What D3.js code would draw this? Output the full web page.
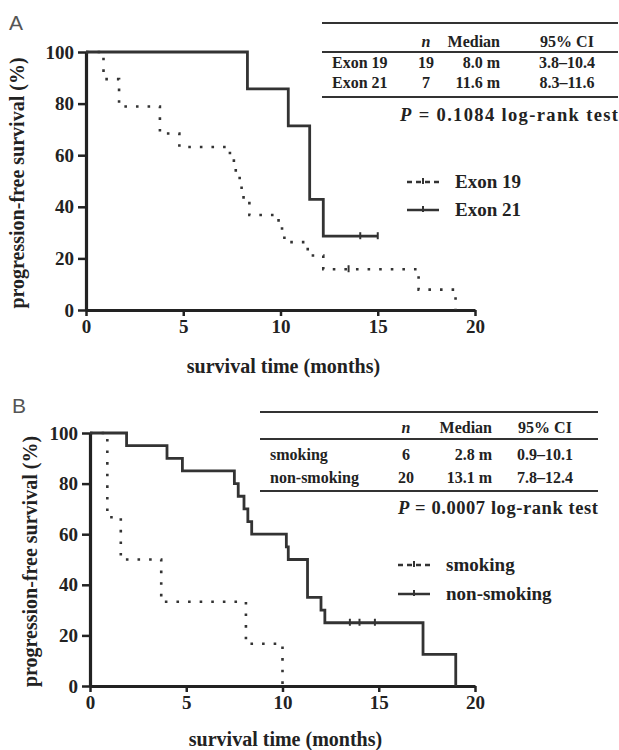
<!DOCTYPE html>
<meta charset="utf-8">
<head>
  <title>PFS curves</title>
  <script src="https://cdnjs.cloudflare.com/ajax/libs/d3/7.8.5/d3.min.js"></script>
  <style>
    body { margin: 0; background: #fff; }
    text { font-family: "Liberation Serif", "Times New Roman", serif; font-weight: bold; fill: #222; }
  </style>
</head>
<body>
<div id="chart"></div>
<script>
  var WIDTH = 619
  var HEIGHT = 750

  // panel A: exon 19 vs exon 21 (Kaplan-Meier steps, survival in %)
  var timesExon19 = [0, 0.9, 1.7, 3.8, 4.8, 7.4, 7.7, 7.9, 8.1, 8.4, 9.9, 10.2, 11.4, 12.2, 17.1, 19.0]
  var survExon19  = [100, 89.5, 78.9, 68.4, 63.2, 57.9, 52.6, 47.4, 42.1, 36.8, 31.6, 26.3, 21.1, 15.8, 7.9, 0]
  var censorExon19 = [[13.5, 15.8]]

  var timesExon21 = [0, 8.3, 10.4, 11.5, 12.2, 15.0]
  var survExon21  = [100, 85.7, 71.4, 42.9, 28.6, 28.6]
  var censorExon21 = [[14.1, 28.6], [15.0, 28.6]]

  // panel B: smoking vs non-smoking
  var timesSmoking = [0, 0.9, 1.6, 3.7, 8.1, 10.0]
  var survSmoking  = [100, 66.7, 50, 33.3, 16.7, 0]
  var censorSmoking = []

  var timesNonSmoking = [0, 1.9, 4.0, 4.8, 7.5, 7.7, 8.0, 8.2, 8.4, 10.2, 10.3, 11.3, 12.0, 12.2, 17.3, 19.0]
  var survNonSmoking  = [100, 95, 90, 85, 80, 75, 70, 65, 60, 55, 50, 35, 30, 25, 12.5, 0]
  var censorNonSmoking = [[13.5, 25], [14.0, 25], [14.8, 25]]

  var xTicks = [0, 5, 10, 15, 20]
  var yTicks = [0, 20, 40, 60, 80, 100]

  var tableHeader = ["", "n", "Median", "95% CI"]
  var tableA = [["Exon 19", "19", "8.0 m", "3.8\u201310.4"], ["Exon 21", "7", "11.6 m", "8.3\u201311.6"]]
  var tableB = [["smoking", "6", "2.8 m", "0.9\u201310.1"], ["non-smoking", "20", "13.1 m", "7.8\u201312.4"]]
  var pValueA = "0.1084"
  var pValueB = "0.0007"

  var svg = d3.select("#chart").append("svg")
    .attr("width", WIDTH)
    .attr("height", HEIGHT)

  function zip(t, s) {
    return t.map(function(d, i) { return [d, s[i]] })
  }

  function drawPanel(p) {
    var x = d3.scaleLinear().domain([0, 20]).range([p.left, p.right])
    var y = d3.scaleLinear().domain([0, 100]).range([p.bottom, p.top])
    var g = svg.append("g")

    g.append("text")
      .attr("x", p.letterX).attr("y", p.letterY)
      .style("font-family", "Liberation Sans, sans-serif")
      .style("font-weight", "normal")
      .style("font-size", "21px")
      .style("fill", "#555")
      .text(p.letter)

    var xAxis = g.append("g")
      .attr("transform", "translate(0," + p.bottom + ")")
      .call(d3.axisBottom(x).tickValues(xTicks).tickSize(6).tickSizeOuter(0).tickPadding(4))
    var yAxis = g.append("g")
      .attr("transform", "translate(" + p.left + ",0)")
      .call(d3.axisLeft(y).tickValues(yTicks).tickSize(8).tickSizeOuter(0).tickPadding(4))

    ;[xAxis, yAxis].forEach(function(a) {
      a.select(".domain").attr("stroke", "#222").attr("stroke-width", 3.2)
      a.selectAll(".tick line").attr("stroke", "#222").attr("stroke-width", 2.5)
      a.selectAll(".tick text").style("font-size", "19px").attr("fill", "#222")
    })

    g.append("text")
      .attr("x", (p.left + p.right) / 2 + 3).attr("y", p.xLabelY)
      .attr("text-anchor", "middle")
      .style("font-size", "20px")
      .text("survival time (months)")

    g.append("text")
      .attr("transform", "translate(" + p.yLabelX + "," + ((p.top + p.bottom) / 2 + 2) + ") rotate(-90)")
      .attr("text-anchor", "middle")
      .style("font-size", "20px")
      .text("progression-free survival (%)")

    var line = d3.line()
      .x(function(d) { return x(d[0]) })
      .y(function(d) { return y(d[1]) })
      .curve(d3.curveStepAfter)

    p.series.forEach(function(s) {
      g.append("path")
        .datum(zip(s.times, s.surv))
        .attr("d", line)
        .attr("fill", "none")
        .attr("stroke", "#333")
        .attr("stroke-width", s.dotted ? 2.6 : 2.8)
        .attr("stroke-dasharray", s.dotted ? "2.6,9" : null)

      g.selectAll(null)
        .data(s.censor)
        .enter().append("line")
        .attr("x1", function(d) { return x(d[0]) })
        .attr("x2", function(d) { return x(d[0]) })
        .attr("y1", function(d) { return y(d[1]) - 4 })
        .attr("y2", function(d) { return y(d[1]) + 3 })
        .attr("stroke", "#333")
        .attr("stroke-width", 2)
    })

    // summary table
    var t = p.table
    ;[t.ruleTop, t.ruleMid, t.ruleBottom].forEach(function(yy) {
      g.append("line")
        .attr("x1", t.x0).attr("x2", t.x1)
        .attr("y1", yy).attr("y2", yy)
        .attr("stroke", "#333").attr("stroke-width", 2)
    })
    var rows = [tableHeader].concat(t.rows)
    rows.forEach(function(r, i) {
      var yy = t.rowY[i]
      g.append("text").attr("x", t.labelX).attr("y", yy).style("font-size", "16px").text(r[0])
      g.append("text").attr("x", t.nX).attr("y", yy).attr("text-anchor", "middle")
        .style("font-size", "16px").style("font-style", i === 0 ? "italic" : "normal").text(r[1])
      g.append("text").attr("x", t.medX).attr("y", yy).attr("text-anchor", "end")
        .style("font-size", "16px").text(r[2])
      g.append("text").attr("x", t.ciX).attr("y", yy).attr("text-anchor", "middle")
        .style("font-size", "16px").text(r[3])
    })
    var pt = g.append("text").attr("x", t.pX0).attr("y", t.pY)
      .style("font-size", "18.5px")
      .attr("textLength", t.x1 - t.pX0).attr("lengthAdjust", "spacing")
    pt.append("tspan").style("font-style", "italic").text("P")
    pt.append("tspan").text(" = " + t.p + "  log-rank test")

    // legend
    p.series.forEach(function(s, i) {
      var ly = p.legendY[i]
      g.append("line")
        .attr("x1", p.legendX).attr("x2", p.legendX + 32)
        .attr("y1", ly).attr("y2", ly)
        .attr("stroke", "#333").attr("stroke-width", 2.5)
        .attr("stroke-dasharray", s.dotted ? "5,4" : null)
      g.append("line")
        .attr("x1", p.legendX + 16).attr("x2", p.legendX + 16)
        .attr("y1", ly - 4).attr("y2", ly + 2)
        .attr("stroke", "#333").attr("stroke-width", 2)
      g.append("text")
        .attr("x", p.legendX + 48).attr("y", ly + 6)
        .style("font-size", "19px")
        .text(s.name)
    })
  }

  drawPanel({
    letter: "A", letterX: 9, letterY: 30,
    left: 86, right: 475, top: 52, bottom: 310,
    xLabelY: 373, yLabelX: 24,
    series: [
      { name: "Exon 19", times: timesExon19, surv: survExon19, censor: censorExon19, dotted: true },
      { name: "Exon 21", times: timesExon21, surv: survExon21, censor: censorExon21, dotted: false }
    ],
    legendX: 407, legendY: [182, 210],
    table: { x0: 322, x1: 618, ruleTop: 23, ruleMid: 52, ruleBottom: 97,
      rowY: [47, 68, 88], labelX: 332, nX: 426, medX: 500, ciX: 567,
      rows: tableA, pY: 121, pX0: 400, p: pValueA }
  })

  drawPanel({
    letter: "B", letterX: 12, letterY: 413,
    left: 90, right: 475, top: 433, bottom: 686,
    xLabelY: 746, yLabelX: 37,
    series: [
      { name: "smoking", times: timesSmoking, surv: survSmoking, censor: censorSmoking, dotted: true },
      { name: "non-smoking", times: timesNonSmoking, surv: survNonSmoking, censor: censorNonSmoking, dotted: false }
    ],
    legendX: 398, legendY: [565, 594],
    table: { x0: 260, x1: 598, ruleTop: 412, ruleMid: 439, ruleBottom: 491,
      rowY: [433, 460, 483], labelX: 270, nX: 406, medX: 492, ciX: 545,
      rows: tableB, pY: 514, pX0: 398, p: pValueB }
  })
</script>
</body>
